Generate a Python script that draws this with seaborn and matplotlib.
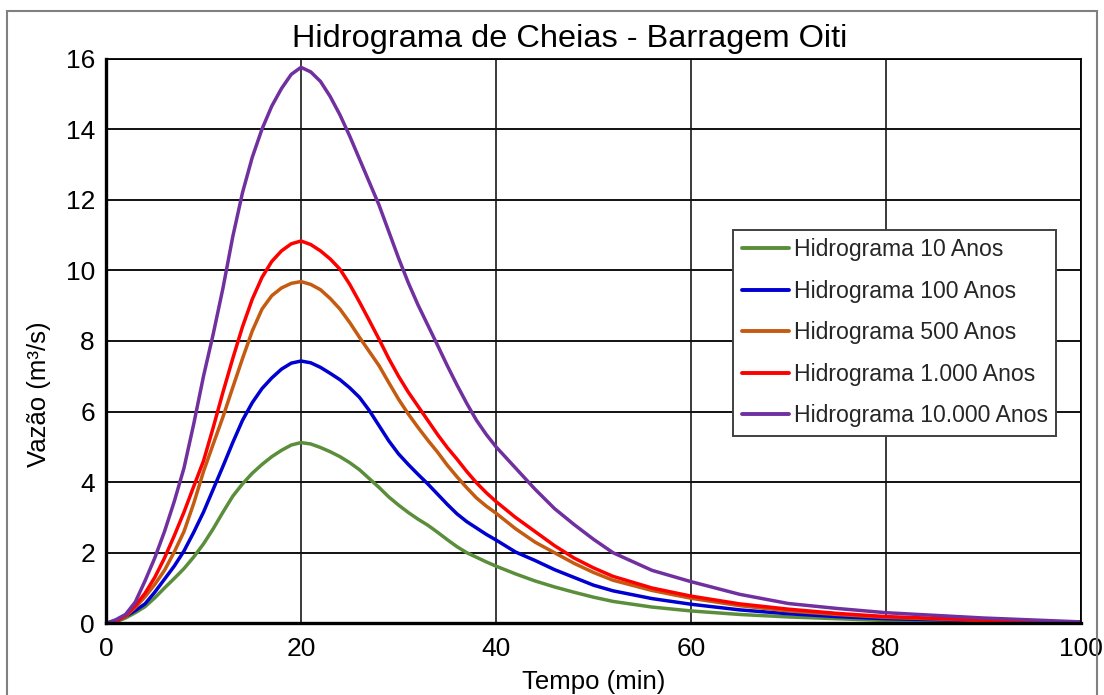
import matplotlib
matplotlib.use("Agg")
import matplotlib.pyplot as plt
from matplotlib.patches import Rectangle
import pandas as pd
import seaborn as sns

# Tempo (min) e vazões (m³/s) de cada hidrograma
tempo = [0, 1, 2, 3, 4, 5, 6, 7, 8, 9, 10, 11, 12, 13, 14, 15, 16, 17, 18, 19, 20,
         21, 22, 23, 24, 25, 26, 27, 28, 29, 30, 31, 32, 33, 34, 35, 36, 37, 38, 39, 40,
         42, 44, 46, 48, 50, 52, 56, 60, 65, 70, 75, 80, 90, 100]

q_10 = [0, 0.04, 0.15, 0.3, 0.47, 0.72, 1.0, 1.27, 1.55, 1.88, 2.25, 2.68, 3.15, 3.6, 3.95,
        4.25, 4.5, 4.72, 4.9, 5.05, 5.12, 5.08, 4.98, 4.86, 4.72, 4.55, 4.35, 4.1, 3.85, 3.58,
        3.35, 3.14, 2.95, 2.78, 2.58, 2.37, 2.17, 2.0, 1.87, 1.74, 1.62,
        1.4, 1.2, 1.03, 0.88, 0.74, 0.62, 0.46, 0.35, 0.25, 0.18, 0.13, 0.08, 0.05, 0.03]
q_100 = [0, 0.05, 0.2, 0.36, 0.55, 0.88, 1.25, 1.62, 2.05, 2.58, 3.15, 3.8, 4.45, 5.12, 5.75,
         6.25, 6.65, 6.95, 7.2, 7.37, 7.43, 7.38, 7.25, 7.08, 6.9, 6.67, 6.4, 6.03, 5.6, 5.17,
         4.8, 4.5, 4.22, 3.95, 3.66, 3.37, 3.1, 2.88, 2.7, 2.52, 2.36,
         2.02, 1.78, 1.52, 1.3, 1.08, 0.92, 0.7, 0.54, 0.38, 0.27, 0.19, 0.13, 0.07, 0.03]
q_500 = [0, 0.05, 0.2, 0.45, 0.75, 1.1, 1.5, 2.02, 2.6, 3.4, 4.3, 5.08, 5.85, 6.68, 7.5,
         8.28, 8.9, 9.28, 9.5, 9.63, 9.68, 9.6, 9.45, 9.2, 8.9, 8.52, 8.1, 7.7, 7.3, 6.82,
         6.35, 5.93, 5.55, 5.19, 4.85, 4.48, 4.15, 3.84, 3.55, 3.32, 3.12,
         2.68, 2.3, 2.0, 1.7, 1.44, 1.22, 0.93, 0.71, 0.5, 0.35, 0.25, 0.17, 0.08, 0.03]
q_1000 = [0, 0.06, 0.22, 0.5, 0.85, 1.3, 1.85, 2.48, 3.15, 3.88, 4.6, 5.55, 6.55, 7.5, 8.4,
          9.18, 9.8, 10.25, 10.55, 10.75, 10.83, 10.73, 10.55, 10.32, 10.03, 9.6, 9.1, 8.58,
          8.05, 7.5, 7.0, 6.55, 6.15, 5.75, 5.35, 4.98, 4.65, 4.3, 3.98, 3.7, 3.45,
          3.0, 2.6, 2.2, 1.85, 1.57, 1.33, 1.0, 0.77, 0.55, 0.4, 0.28, 0.19, 0.09, 0.03]
q_10000 = [0, 0.1, 0.25, 0.6, 1.2, 1.85, 2.6, 3.45, 4.4, 5.65, 7.0, 8.2, 9.5, 10.95, 12.2,
           13.2, 14.0, 14.65, 15.15, 15.55, 15.75, 15.62, 15.35, 14.92, 14.4, 13.8, 13.15,
           12.5, 11.85, 11.1, 10.35, 9.65, 9.02, 8.45, 7.88, 7.3, 6.75, 6.23, 5.75, 5.35, 5.0,
           4.4, 3.8, 3.25, 2.8, 2.38, 2.0, 1.5, 1.18, 0.82, 0.56, 0.42, 0.3, 0.15, 0.04]

series = ["Hidrograma 10 Anos", "Hidrograma 100 Anos", "Hidrograma 500 Anos",
          "Hidrograma 1.000 Anos", "Hidrograma 10.000 Anos"]
cores = ["#5B8E3A", "#0000D0", "#C55A11", "#FF0000", "#7030A0"]

x_ticks = [0, 20, 40, 60, 80, 100]
y_ticks = [0, 2, 4, 6, 8, 10, 12, 14, 16]

frames = []
for nome, vals in zip(series, [q_10, q_100, q_500, q_1000, q_10000]):
    frames.append(pd.DataFrame({"Tempo": tempo, "Vazao": vals, "Serie": nome}))
df = pd.concat(frames, ignore_index=True)

sns.set_theme(style="white")
plt.rcParams["font.family"] = ["Liberation Sans", "DejaVu Sans"]

fig = plt.figure(figsize=(11.04, 6.95), dpi=100)
ax = fig.add_axes([106 / 1104, 1 - 623.3 / 695, 975 / 1104, 564.8 / 695])

sns.lineplot(data=df, x="Tempo", y="Vazao", hue="Serie", hue_order=series,
             palette=cores, linewidth=2.5, estimator=None, sort=False, ax=ax)
for line in ax.get_lines():
    line.set_solid_joinstyle("round")

ax.set_xlim(0, 100)
ax.set_ylim(0, 16)
ax.set_xticks(x_ticks)
ax.set_yticks(y_ticks)
ax.set_axisbelow(True)
ax.grid(True, axis="y", color="#111111", linewidth=1.4)
ax.grid(True, axis="x", color="#3a3a3a", linewidth=1.4)
ax.tick_params(axis="both", length=0, labelsize=19, colors="black")
ax.tick_params(axis="x", pad=10)
ax.tick_params(axis="y", pad=8)

for side in ["left", "bottom"]:
    ax.spines[side].set_color("black")
    ax.spines[side].set_linewidth(2.4)
for side in ["top", "right"]:
    ax.spines[side].set_color("black")
    ax.spines[side].set_linewidth(1.3)

ax.set_xlabel("Tempo (min)", fontsize=18.5, color="black")
ax.set_ylabel("Vazão (m³/s)", fontsize=18.5, color="black")
ax.xaxis.set_label_coords(0.5, -0.083)
ax.yaxis.set_label_coords(-0.056, 0.406)

fig.text(570 / 1104, 1 - 39 / 695, "Hidrograma de Cheias - Barragem Oiti",
         ha="center", va="center", fontsize=23.4, color="black")

handles, labels = ax.get_legend_handles_labels()
leg = ax.legend(handles, labels, loc="upper left", bbox_to_anchor=(733 / 1104, 1 - 229.5 / 695),
                bbox_transform=fig.transFigure, fontsize=16.6, frameon=True, fancybox=False,
                edgecolor="#404040", framealpha=1, handlelength=2.05, handletextpad=0.2,
                labelspacing=0.8, borderpad=0.38, borderaxespad=0)
leg.get_frame().set_linewidth(1.4)
for line in leg.get_lines():
    line.set_linewidth(2.8)

fig.add_artist(Rectangle((7 / 1104, -0.05), (1097 - 7) / 1104, 1 - 11 / 695 + 0.05,
                         transform=fig.transFigure, fill=False, edgecolor="#808080",
                         linewidth=1.5))

fig.savefig("out.png", dpi=100)
